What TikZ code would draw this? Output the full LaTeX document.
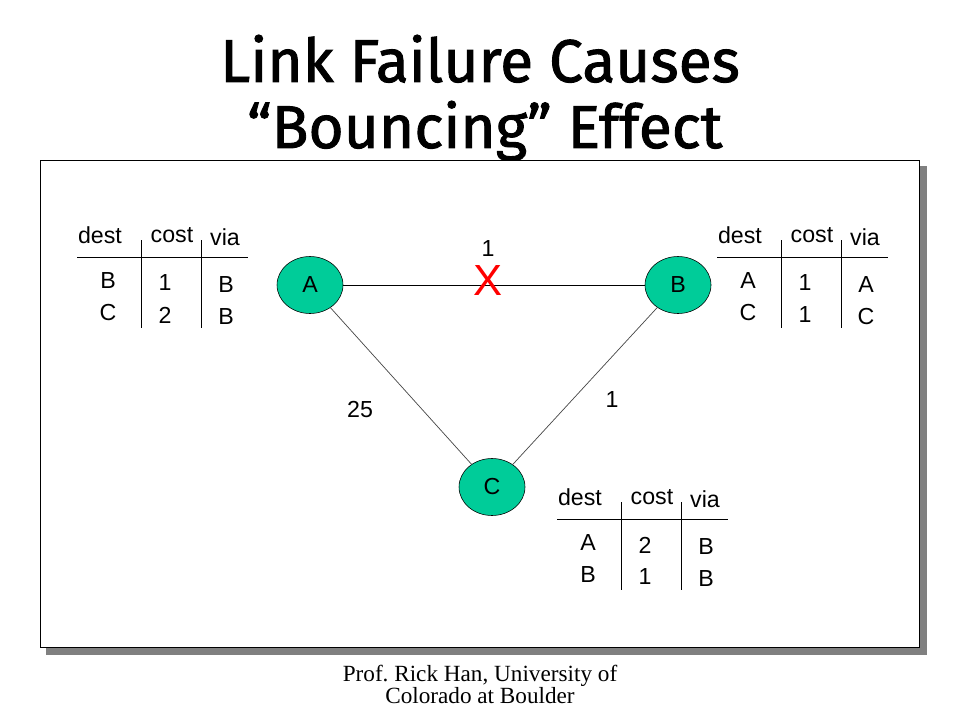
\documentclass[tikz,border=0pt]{standalone}
\usepackage{fontspec}
\setmainfont{Liberation Sans}
\newfontfamily\titlefont[FakeBold=1.5]{Fira Sans}
\newfontfamily\footfont{Liberation Serif}
\usetikzlibrary{shapes.geometric}
\definecolor{routergreen}{RGB}{0,204,153}
\definecolor{linkgray}{RGB}{70,70,70}
\definecolor{shadowgray}{RGB}{128,128,128}

\tikzset{router/.style={ellipse,draw=black,fill=routergreen,minimum width=1.65cm,minimum height=1.425cm,inner sep=0pt,font=\fontsize{16.5}{19}\selectfont},
  tabtext/.style={inner sep=0pt,font=\fontsize{16.5}{19}\selectfont},
  tabline/.style={line width=0.6pt}}

\begin{document}
\begin{tikzpicture}
\useasboundingbox (0,0) rectangle (24,18);
% title and footer
\node[anchor=base,font=\titlefont\fontsize{43}{50}\selectfont] at (12,15.95) (title1) {Link Failure Causes};
\node[anchor=base,font=\titlefont\fontsize{43}{50}\selectfont] at (12.12,14.3) (title2) {“Bouncing” Effect};
\node[align=center,font=\footfont\fontsize{16.5}{15.6}\selectfont] at (12,0.9) (footer) {Prof.\ Rick Han, University of\\Colorado at Boulder};
% slide frame with shadow
\fill[shadowgray] (1.15,1.625) rectangle (23.175,13.85);
\draw[fill=white,line width=0.6pt] (1.0,1.825) rectangle (22.975,14.0);
% routers and links
\node[router] at (7.75,10.875) (A) {A};
\node[router] at (16.95,10.875) (B) {B};
\node[router] at (12.3,5.825) (C) {C};
\draw[line width=0.7pt] (A) -- (B);
\draw[color=linkgray,line width=0.5pt] (A) -- (C);
\draw[color=linkgray,line width=0.5pt] (B) -- (C);
\node[text=red,inner sep=0pt,font=\fontsize{31}{36}\selectfont] at (12.2,10.975) (X) {X};
\node[tabtext] at (12.2,11.775) (costAB) {1};
\node[tabtext] at (9.0,7.75) (costAC) {25};
\node[tabtext] at (15.3,8.0) (costBC) {1};
% table of A
\node[tabtext] at (2.5,12.125) (aDest) {dest};
\node[tabtext] at (4.3,12.125) (aCost) {cost};
\node[tabtext] at (5.625,12.075) (aVia) {via};
\draw[tabline] (1.925,11.575) -- (6.2,11.575);
\draw[tabline] (3.525,12.0) -- (3.525,9.8);
\draw[tabline] (5.025,12.0) -- (5.025,9.8);
\node[tabtext] at (2.7,10.975) (aB) {B};
\node[tabtext] at (4.125,10.925) (aBcost) {1};
\node[tabtext] at (5.65,10.875) (aBvia) {B};
\node[tabtext] at (2.7,10.175) (aC) {C};
\node[tabtext] at (4.125,10.125) (aCcost) {2};
\node[tabtext] at (5.65,10.075) (aCvia) {B};
% table of B
\begin{scope}[shift={(16,0)}]
\node[tabtext] at (2.5,12.125) (bDest) {dest};
\node[tabtext] at (4.3,12.125) (bCost) {cost};
\node[tabtext] at (5.625,12.075) (bVia) {via};
\draw[tabline] (1.925,11.575) -- (6.2,11.575);
\draw[tabline] (3.525,12.0) -- (3.525,9.8);
\draw[tabline] (5.025,12.0) -- (5.025,9.8);
\node[tabtext] at (2.7,10.975) (bA) {A};
\node[tabtext] at (4.125,10.925) (bAcost) {1};
\node[tabtext] at (5.65,10.875) (bAvia) {A};
\node[tabtext] at (2.7,10.175) (bC) {C};
\node[tabtext] at (4.125,10.125) (bCcost) {1};
\node[tabtext] at (5.65,10.075) (bCvia) {C};
\end{scope}
% table of C
\begin{scope}[shift={(12,-6.55)}]
\node[tabtext] at (2.5,12.125) (cDest) {dest};
\node[tabtext] at (4.3,12.125) (cCost) {cost};
\node[tabtext] at (5.625,12.075) (cVia) {via};
\draw[tabline] (1.925,11.575) -- (6.2,11.575);
\draw[tabline] (3.525,12.0) -- (3.525,9.8);
\draw[tabline] (5.025,12.0) -- (5.025,9.8);
\node[tabtext] at (2.7,10.975) (cA) {A};
\node[tabtext] at (4.125,10.925) (cAcost) {2};
\node[tabtext] at (5.65,10.875) (cAvia) {B};
\node[tabtext] at (2.7,10.175) (cB) {B};
\node[tabtext] at (4.125,10.125) (cBcost) {1};
\node[tabtext] at (5.65,10.075) (cBvia) {B};
\end{scope}
\end{tikzpicture}
\end{document}
